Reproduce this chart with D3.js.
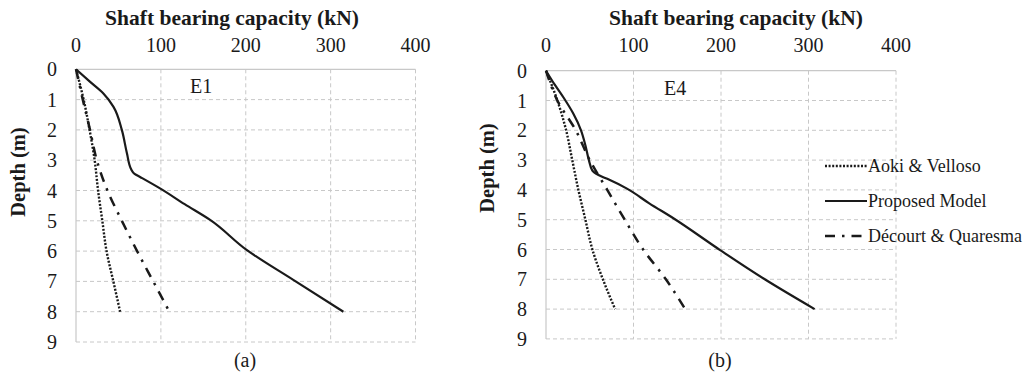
<!DOCTYPE html>
<html>
<head>
<meta charset="utf-8">
<script src="https://cdn.jsdelivr.net/npm/d3@7"></script>
<style>
  html, body { margin: 0; padding: 0; background: #fff; }
  .grid line { stroke: #c8c8c8; stroke-width: 1; stroke-dasharray: 4,3; }
  .frame { stroke: #c8c8c8; stroke-width: 1.2; }
</style>
</head>
<body>
<div id="chart"></div>
<script>
// tick labels
const capacityTicks = [0, 100, 200, 300, 400];
const depthTicks = [0, 1, 2, 3, 4, 5, 6, 7, 8, 9];
const seriesNames = ["Aoki & Velloso", "Proposed Model", "Décourt & Quaresma"];

// [capacity kN, depth m]
const e1Aoki = [[0, 0], [9, 1], [16, 2], [22, 3], [26, 4], [31, 5], [36, 6], [44, 7], [52, 8]];
const e1Proposed = [[0, 0], [16, 0.4], [32, 0.79], [44, 1.23], [54, 2.0], [60, 2.77], [65, 3.3],
    [69, 3.45], [76, 3.56], [99, 3.93], [128, 4.45], [158, 4.97], [201, 5.96], [256, 6.95], [315, 8]];
const e1Decourt = [[0, 0], [8, 1], [16.5, 2], [24.5, 3], [37, 4], [54, 5], [72, 6], [91, 7], [110, 8]];

const e4Aoki = [[0, 0], [13, 1], [23, 2], [30, 3], [37, 4], [45, 5], [53, 6], [65, 7], [79, 8]];
const e4Proposed = [[0, 0], [10, 0.47], [20, 0.9], [31, 1.43], [40, 2.0], [45, 2.5], [49, 3.0], [53, 3.35],
    [60, 3.5], [70, 3.63], [92, 3.95], [118, 4.45], [146, 4.96], [199, 6.02], [250, 7.0], [307, 8]];
const e4Decourt = [[0, 0], [13, 1], [34, 2], [50, 3], [70, 4], [90, 5], [111, 6], [137, 7], [159, 8]];

const W = 1029, H = 379;
const ink = "#1a1a1a";
const serif = '"Liberation Serif", "Times New Roman", serif';

const styles = [
    { dash: "2,1.6", width: 2.4 },
    { dash: null, width: 2.2 },
    { dash: "10,7,2.5,7", width: 2.5 }
];

const panels = [
    { tag: "E1", caption: "(a)", series: [e1Aoki, e1Proposed, e1Decourt],
      left: 76, right: 415.5, top: 69.3, bottom: 342, titleX: 232, yTitleX: 25, yTitleY: 172,
      tagX: 190, tagY: 93, capX: 245 },
    { tag: "E4", caption: "(b)", series: [e4Aoki, e4Proposed, e4Decourt],
      left: 546, right: 896, top: 70.7, bottom: 338.9, titleX: 736, yTitleX: 494, yTitleY: 168,
      tagX: 664, tagY: 95, capX: 720 }
];

const svg = d3.select("#chart").append("svg").attr("width", W).attr("height", H);

const addText = (sel, size, bold) => sel
    .style("font-family", serif)
    .style("font-size", size + "px")
    .style("font-weight", bold ? "bold" : "normal")
    .style("fill", ink);

panels.forEach(p => {
    const x = d3.scaleLinear().domain([0, 400]).range([p.left, p.right]);
    const y = d3.scaleLinear().domain([0, 9]).range([p.top, p.bottom]);
    const g = svg.append("g");

    // gridlines
    const grid = g.append("g").attr("class", "grid");
    grid.selectAll(".v").data(capacityTicks.slice(1)).enter().append("line")
        .attr("x1", d => x(d)).attr("x2", d => x(d))
        .attr("y1", y(0)).attr("y2", y(9));
    grid.selectAll(".h").data(depthTicks.slice(1)).enter().append("line")
        .attr("x1", x(0)).attr("x2", x(400))
        .attr("y1", d => y(d)).attr("y2", d => y(d));

    g.append("line").attr("class", "frame")
        .attr("x1", x(0)).attr("x2", x(400)).attr("y1", y(0)).attr("y2", y(0));
    g.append("line").attr("class", "frame")
        .attr("x1", x(0)).attr("x2", x(0)).attr("y1", y(0)).attr("y2", y(9));

    // tick labels
    addText(g.selectAll(".xl").data(capacityTicks).enter().append("text")
        .attr("x", d => x(d)).attr("y", 52)
        .attr("text-anchor", "middle")
        .text(d => d), 20);
    addText(g.selectAll(".yl").data(depthTicks).enter().append("text")
        .attr("x", x(0) - 19).attr("y", d => y(d)).attr("dy", "0.35em")
        .attr("text-anchor", "end")
        .text(d => d), 20);

    // axis titles
    addText(g.append("text")
        .attr("x", p.titleX).attr("y", 25)
        .attr("text-anchor", "middle")
        .text("Shaft bearing capacity (kN)"), 21.5, true);
    addText(g.append("text")
        .attr("transform", `translate(${p.yTitleX},${p.yTitleY}) rotate(-90)`)
        .attr("text-anchor", "middle")
        .text("Depth (m)"), 20.5, true);

    addText(g.append("text")
        .attr("x", p.tagX).attr("y", p.tagY)
        .text(p.tag), 20);
    addText(g.append("text")
        .attr("x", p.capX).attr("y", 367)
        .attr("text-anchor", "middle")
        .text(p.caption), 20);

    const line = d3.line()
        .x(d => x(d[0]))
        .y(d => y(d[1]))
        .curve(d3.curveMonotoneY);

    p.series.forEach((s, i) => {
        g.append("path")
            .datum(s)
            .attr("d", line)
            .attr("fill", "none")
            .attr("stroke", ink)
            .attr("stroke-width", styles[i].width)
            .attr("stroke-dasharray", styles[i].dash);
    });
});

// legend
const legendY = [166, 201, 236];
const legend = svg.append("g");
seriesNames.forEach((name, i) => {
    legend.append("line")
        .attr("x1", 825).attr("x2", 867)
        .attr("y1", legendY[i]).attr("y2", legendY[i])
        .attr("stroke", ink)
        .attr("stroke-width", styles[i].width)
        .attr("stroke-dasharray", styles[i].dash);
    addText(legend.append("text")
        .attr("x", 868).attr("y", legendY[i] + 6)
        .text(name), 18);
});
</script>
</body>
</html>
